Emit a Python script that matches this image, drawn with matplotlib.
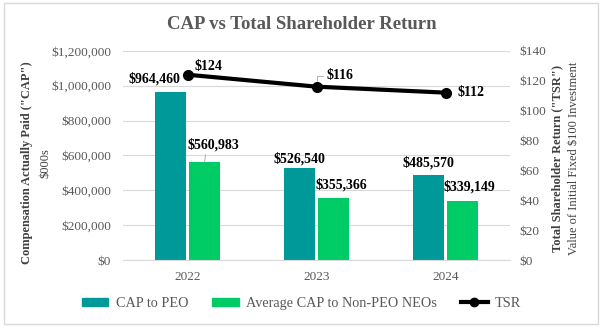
import numpy as np
import matplotlib.pyplot as plt
from matplotlib.lines import Line2D
from matplotlib.patches import Patch, Rectangle
from matplotlib.ticker import FuncFormatter

years = ['2022', '2023', '2024']
cap_peo = [964460, 526540, 485570]
cap_neo = [560983, 355366, 339149]
tsr = [124, 116, 112]

TEAL = '#009999'
GREEN = '#00CC66'
GRID = '#d9d9d9'
TXT = '#595959'

plt.rcParams['font.family'] = ['Liberation Serif', 'DejaVu Serif']

fig = plt.figure(figsize=(6.03, 3.31), dpi=100)
fig.patches.append(Rectangle((0.0066, 0.021), 0.985, 0.97, transform=fig.transFigure,
                             fill=False, edgecolor='#d9d9d9', linewidth=1))
ax = fig.add_axes([0.204, 0.2145, 0.642, 0.632])
ax2 = ax.twinx()

x = np.arange(len(years))
w = 0.24
off = 0.132
ax.bar(x - off, cap_peo, w, color=TEAL, zorder=2)
ax.bar(x + off, cap_neo, w, color=GREEN, zorder=2)

money = FuncFormatter(lambda v, p: '${:,.0f}'.format(v))

ax.set_xlim(-0.5, 2.5)
ax.set_ylim(0, 1200000)
ax.set_yticks(range(0, 1200001, 200000))
ax.yaxis.set_major_formatter(money)
ax.grid(axis='y', color=GRID, linewidth=0.8, zorder=0)
ax.set_axisbelow(True)
ax.set_xticks(x)
ax.set_xticklabels(years)
for s in ['top', 'right', 'left']:
    ax.spines[s].set_visible(False)
ax.spines['bottom'].set_color(GRID)
ax.tick_params(axis='y', length=0, colors=TXT, labelsize=9.5, pad=8.5)
ax.tick_params(axis='x', length=0, colors=TXT, labelsize=9.5, pad=8)

ax2.set_ylim(0, 140)
ax2.set_yticks(range(0, 141, 20))
ax2.yaxis.set_major_formatter(money)
for s in ax2.spines.values():
    s.set_visible(False)
ax2.tick_params(axis='y', length=0, colors=TXT, labelsize=9.5, pad=7)
ax2.plot(x, tsr, color='black', linewidth=3, marker='o', markersize=7, zorder=5)

# axis titles: bold first line, regular second line
fig.text(0.045, 0.507, 'Compensation Actually Paid ("CAP")', rotation=90, ha='center', va='center',
         fontsize=9, fontweight='bold', color='#404040')
fig.text(0.075, 0.507, '$000s', rotation=90, ha='center', va='center', fontsize=9, color='#404040')
fig.text(0.924, 0.521, 'Total Shareholder Return ("TSR")', rotation=90, ha='center', va='center',
         fontsize=9, fontweight='bold', color='#404040')
fig.text(0.952, 0.521, 'Value of Initial Fixed $100 Investment', rotation=90, ha='center', va='center',
         fontsize=9, color='#404040')

fig.text(0.5, 0.925, 'CAP vs Total Shareholder Return', ha='center', va='center',
         fontsize=13.5, fontweight='bold', color=TXT)

lbl = dict(fontsize=10, fontweight='bold', color='black', ha='center', va='center',
           textcoords='offset pixels')
fmt = lambda v: '${:,.0f}'.format(v)
lead = dict(arrowstyle='-', color='#a6a6a6', lw=0.6, shrinkA=0, shrinkB=0)

# bar labels (offsets in pixels from the bar top centre)
ax.annotate(fmt(cap_peo[0]), (x[0] - off, cap_peo[0]), xytext=(-16, 13), **lbl)
ax.annotate(fmt(cap_neo[0]), (x[0] + off, cap_neo[0]), xytext=(9, 17), zorder=6,
            arrowprops=dict(lead, relpos=(0.35, 0.0)), **lbl)
ax.annotate(fmt(cap_peo[1]), (x[1] - off, cap_peo[1]), xytext=(0, 9), **lbl)
ax.annotate(fmt(cap_neo[1]), (x[1] + off, cap_neo[1]), xytext=(8, 13), **lbl)
ax.annotate(fmt(cap_peo[2]), (x[2] - off, cap_peo[2]), xytext=(0, 13), **lbl)
ax.annotate(fmt(cap_neo[2]), (x[2] + off, cap_neo[2]), xytext=(7, 14), **lbl)

# TSR labels
ax2.annotate(fmt(tsr[0]), (x[0], tsr[0]), xytext=(21, 8), **lbl)
ax2.annotate(fmt(tsr[1]), (x[1], tsr[1]), xytext=(23, 11),
             arrowprops=dict(lead, relpos=(0.0, 0.5), shrinkB=4,
                             connectionstyle='angle,angleA=0,angleB=90,rad=0'), **lbl)
ax2.annotate(fmt(tsr[2]), (x[2], tsr[2]), xytext=(25, 0), **lbl)

handles = [Patch(color=TEAL), Patch(color=GREEN),
           Line2D([0], [0], color='black', lw=3, marker='o', markersize=6)]
fig.legend(handles, ['CAP to PEO', 'Average CAP to Non-PEO NEOs', 'TSR'], loc='center',
           bbox_to_anchor=(0.5, 0.083), ncol=3, frameon=False, fontsize=10.3,
           handlelength=1.85, handleheight=0.5, handletextpad=0.5, columnspacing=1.7,
           labelcolor=TXT)

fig.savefig('out.png', dpi=100)
